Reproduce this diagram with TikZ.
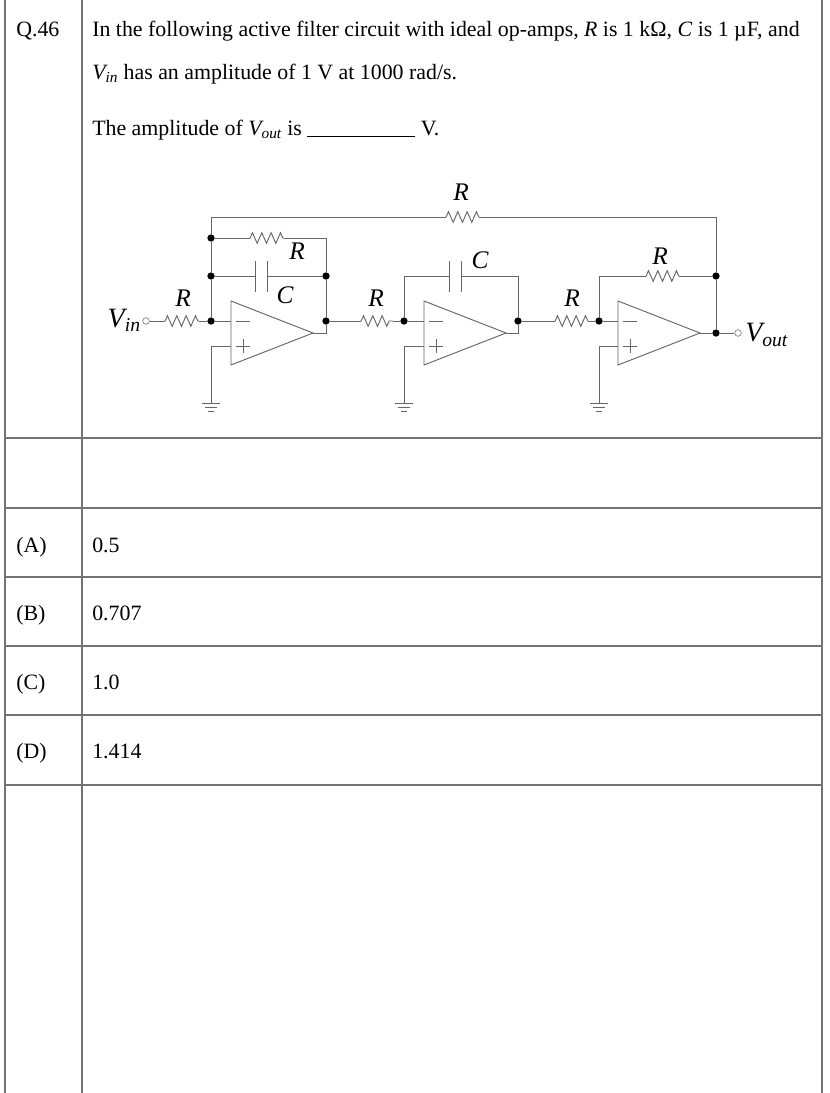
\documentclass[tikz,border=0pt]{standalone}
\usepackage{fontspec}
\setmainfont{Liberation Serif}
\usetikzlibrary{decorations.pathmorphing}

\tikzset{
    wire/.style={draw=black!60, line width=0.7},
    res/.style={wire, decorate, decoration={zigzag, segment length=7, amplitude=4, pre length=0.1, post length=0.1}},
    dot/.style={circle, fill=black, inner sep=0pt, minimum size=5.5},
    term/.style={circle, draw=black!60, fill=white, inner sep=0pt, minimum size=5},
    lbl/.style={font=\fontsize{19}{19}\selectfont\itshape, inner sep=0pt},
    body/.style={font=\fontsize{16.4}{19}\selectfont, anchor=base west, inner sep=0pt},
    grid/.style={draw=black!55, line width=0.8}
}

\begin{document}
\begin{tikzpicture}[x=0.75pt,y=0.75pt,yscale=-1,xscale=1]
    \useasboundingbox (0,0) rectangle (830,1093);

    %Table
    \draw [grid] (5,0) -- (5,1093);
    \draw [grid] (82,0) -- (82,1093);
    \draw [grid] (822,0) -- (822,1093);
    \foreach \y in {438,508,577,646,715,785}
        \draw [grid] (5,\y) -- (822,\y);

    %Texts
    \node [body] (qno) at (16,36) {Q.46};
    \node [body] (line1) at (92,36) {In the following active filter circuit with ideal op-amps, \textit{R} is 1 kΩ, \textit{C} is 1 µF, and};
    \node [body] (line2) at (92,79) {\textit{V\textsubscript{in}} has an amplitude of 1 V at 1000 rad/s.};
    \node [body] (line3) at (92,135) {The amplitude of \textit{V\textsubscript{out}} is \rule[-1pt]{81pt}{0.6pt} V.};
    \node [body] (ansA) at (16,552) {(A)};
    \node [body] at (92,552) {0.5};
    \node [body] (ansB) at (16,620) {(B)};
    \node [body] at (92,620) {0.707};
    \node [body] (ansC) at (16,689) {(C)};
    \node [body] at (92,689) {1.0};
    \node [body] (ansD) at (16,758) {(D)};
    \node [body] at (92,758) {1.414};

    %Op-amps
    \foreach \n/\xl in {1/231,2/424,3/618} {
        \coordinate (op\n-top) at (\xl,301);
        \coordinate (op\n-bot) at (\xl,365);
        \coordinate (op\n-out) at (\xl+82,333);
        \coordinate (op\n-neg) at (\xl,321);
        \coordinate (op\n-pos) at (\xl,346);
        \draw [wire] (op\n-top) -- (op\n-out) -- (op\n-bot) -- cycle;
        \draw [wire] (\xl+5,321) -- +(14,0);
        \draw [wire] (\xl+5,346) -- +(14,0) (\xl+12,339) -- +(0,14);
    }

    %Nodes
    \node [term] (vin) at (146,321) {};
    \node [lbl, font=\fontsize{21}{21}\selectfont\itshape, anchor=east] at (141,320) {V\textsubscript{in}};
    \node [dot] (n1) at (211,321) {};
    \node [dot] (n1c) at (211,276) {};
    \node [dot] (n1r) at (211,238) {};
    \coordinate (n1t) at (211,217);
    \node [dot] (o1c) at (326,276) {};
    \node [dot] (o1) at (326,321) {};
    \coordinate (o1r) at (326,238);
    \node [dot] (n2) at (404,321) {};
    \coordinate (n2c) at (404,276);
    \coordinate (o2c) at (518,276);
    \node [dot] (o2) at (518,321) {};
    \node [dot] (n3) at (599,321) {};
    \coordinate (n3r) at (599,276);
    \node [dot] (o3r) at (716,276) {};
    \node [dot] (o3) at (716,333) {};
    \coordinate (o3t) at (716,217);
    \node [term] (vout) at (738,333) {};
    \node [lbl, font=\fontsize{21}{21}\selectfont\itshape, anchor=west] at (745,335) {V\textsubscript{out}};

    %Stage 1
    \draw [wire] (vin) -- (165,321);
    \draw [res] (165,321) -- (199,321);
    \draw [wire] (199,321) -- (n1) -- (op1-neg);
    \node [lbl] at (183,298) {R};
    \draw [wire] (n1t) -- (n1r) -- (n1c) -- (n1);
    \draw [wire] (n1r) -- (250,238);
    \draw [res] (250,238) -- (284,238);
    \draw [wire] (284,238) -- (o1r) -- (o1c) -- (o1) -- (326,333) -- (op1-out);
    \node [lbl] at (297,251) {R};
    \draw [wire] (n1c) -- (255,276) (267,276) -- (o1c);
    \draw [wire] (255,261) -- (255,292) (267,261) -- (267,292);
    \node [lbl] at (285,295) {C};

    %Stage 2
    \draw [wire] (o1) -- (361,321);
    \draw [res] (361,321) -- (393,321);
    \draw [wire] (393,321) -- (n2) -- (op2-neg);
    \node [lbl] at (376,298) {R};
    \draw [wire] (n2) -- (n2c) -- (449,276) (461,276) -- (o2c) -- (o2) -- (518,333) -- (op2-out);
    \draw [wire] (449,261) -- (449,292) (461,261) -- (461,292);
    \node [lbl] at (480,260) {C};

    %Stage 3
    \draw [wire] (o2) -- (555,321);
    \draw [res] (555,321) -- (588,321);
    \draw [wire] (588,321) -- (n3) -- (op3-neg);
    \node [lbl] at (572,298) {R};
    \draw [wire] (n3) -- (n3r) -- (646,276);
    \draw [res] (646,276) -- (679,276);
    \draw [wire] (679,276) -- (o3r);
    \node [lbl] at (660,256) {R};
    \draw [wire] (op3-out) -- (o3) -- (vout);
    \draw [wire] (o3t) -- (o3r) -- (o3);

    %Overall feedback
    \draw [wire] (n1t) -- (446,217);
    \draw [res] (446,217) -- (479,217);
    \draw [wire] (479,217) -- (o3t);
    \node [lbl] at (461,192) {R};

    %Grounds
    \foreach \n/\xg in {1/211,2/404,3/599} {
        \coordinate (gnd\n) at (\xg,403);
        \draw [wire] (op\n-pos) -- (\xg,346) -- (gnd\n);
        \draw [wire] (\xg-9,403) -- (\xg+9,403) (\xg-6,407) -- (\xg+6,407) (\xg-3,411) -- (\xg+3,411);
    }
\end{tikzpicture}
\end{document}
